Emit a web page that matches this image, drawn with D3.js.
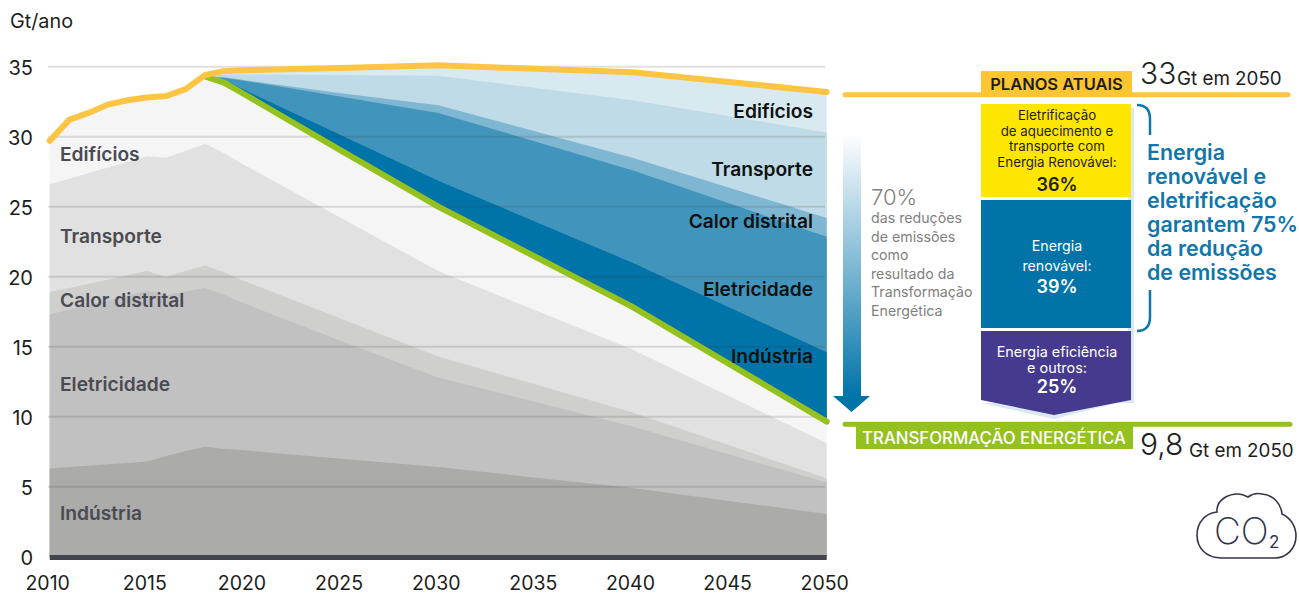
<!DOCTYPE html>
<html>
<head>
<meta charset="utf-8">
<script src="https://cdn.jsdelivr.net/npm/d3@7"></script>
<style>
  html, body { margin: 0; padding: 0; background: #fff; }
  svg { display: block; }
  text { font-family: Inter, "Open Sans", sans-serif; }
</style>
</head>
<body>
<script>
var w = 1299;
var h = 594;

// Years
var years = [2010, 2011, 2012, 2013, 2014, 2015, 2016, 2017, 2018, 2019, 2020, 2025, 2030, 2040, 2050];
var xTicks = [2010, 2015, 2020, 2025, 2030, 2035, 2040, 2045, 2050];
var yTicks = [0, 5, 10, 15, 20, 25, 30, 35];

// Planos atuais (yellow line)
var planned = [29.7, 31.2, 31.7, 32.3, 32.6, 32.8, 32.9, 33.4, 34.4, 34.7, 34.75, 34.9, 35.1, 34.6, 33.2];

// Gray stack, top edge of each sector
var grayTop = [29.7, 31.2, 31.7, 32.3, 32.6, 32.8, 32.9, 33.4, 34.3, 33.85, 33.05, 29.0, 25.0, 17.85, 9.65];
var transportTop = [26.6, 27.0, 27.4, 27.8, 28.2, 28.6, 28.5, 29.0, 29.5, 28.8, 28.0, 24.2, 20.4, 14.8, 8.1];
var heatTop = [18.9, 19.2, 19.5, 19.8, 20.1, 20.4, 20.0, 20.4, 20.8, 20.3, 19.7, 17.0, 14.3, 10.3, 5.6];
var powerTop = [17.3, 17.65, 18.0, 18.3, 18.65, 19.0, 18.7, 18.95, 19.2, 18.7, 18.1, 15.4, 12.8, 9.3, 5.3];
var industryTop = [6.3, 6.4, 6.5, 6.6, 6.7, 6.8, 7.2, 7.55, 7.85, 7.7, 7.6, 7.0, 6.4, 4.9, 3.05];

// Blue wedge between the two scenarios, from 2018 on
var wedgeYears = [2018, 2019, 2020, 2025, 2030, 2040, 2050];
var energyTransition = [34.3, 33.85, 33.05, 29.0, 25.0, 17.85, 9.65];
var wedgeIndustry = [34.3, 34.05, 33.35, 30.1, 26.85, 21.0, 14.6];
var wedgePower = [34.3, 34.2, 34.0, 32.85, 31.7, 27.6, 22.85];
var wedgeHeat = [34.3, 34.25, 34.05, 33.1, 32.25, 28.5, 24.2];
var wedgeTransport = [34.3, 34.45, 34.45, 34.4, 34.36, 32.6, 30.3];
var wedgeBuildings = [34.4, 34.7, 34.75, 34.9, 35.1, 34.6, 33.2];

var sectors = ["Edifícios", "Transporte", "Calor distrital", "Eletricidade", "Indústria"];

var svg = d3.select("body")
  .append("svg")
  .attr("width", w)
  .attr("height", h);

var x = d3.scaleLinear().domain([2010, 2050]).range([49.7, 826.7]);
var y = d3.scaleLinear().domain([0, 35]).range([556.7, 66.7]);

var defs = svg.append("defs");
var grad = defs.append("linearGradient")
  .attr("id", "arrowGrad")
  .attr("x1", 0).attr("x2", 0).attr("y1", 0).attr("y2", 1);
grad.append("stop").attr("offset", "0%").attr("stop-color", "#ffffff");
grad.append("stop").attr("offset", "100%").attr("stop-color", "#0073a9");

// Gray areas, back to front
var grayLayers = [
  { top: grayTop, color: "#f5f5f5" },
  { top: transportTop, color: "#e1e1e1" },
  { top: heatTop, color: "#cfcfcd" },
  { top: powerTop, color: "#c1c1c1" },
  { top: industryTop, color: "#ababa9" }
];

var grayArea = d3.area()
  .x(function(d) { return x(d.year); })
  .y0(y(0))
  .y1(function(d) { return y(d.value); });

grayLayers.forEach(function(layer) {
  var rows = years.map(function(yr, i) { return { year: yr, value: layer.top[i] }; });
  svg.append("path").attr("d", grayArea(rows)).attr("fill", layer.color);
});

// Blue wedge, top layer first
var wedgeLayers = [
  { top: wedgeBuildings, color: "#d9e9f0" },
  { top: wedgeTransport, color: "#bfdbe7" },
  { top: wedgeHeat, color: "#7fb7d2" },
  { top: wedgePower, color: "#4195bc" },
  { top: wedgeIndustry, color: "#0073a8" }
];

var wedgeArea = d3.area()
  .x(function(d) { return x(d.year); })
  .y0(function(d) { return y(d.base); })
  .y1(function(d) { return y(d.value); });

wedgeLayers.forEach(function(layer) {
  var rows = wedgeYears.map(function(yr, i) {
    return { year: yr, value: layer.top[i], base: energyTransition[i] };
  });
  svg.append("path").attr("d", wedgeArea(rows)).attr("fill", layer.color);
});

// Gridlines sit over the areas, they show through in the original
svg.append("g")
  .selectAll("line")
  .data(yTicks.filter(function(d) { return d > 0; }))
  .enter()
  .append("line")
  .attr("x1", 48)
  .attr("x2", 825)
  .attr("y1", function(d) { return y(d); })
  .attr("y2", function(d) { return y(d); })
  .attr("stroke", "#3c3c3c")
  .attr("stroke-opacity", 0.16)
  .attr("stroke-width", 2);

// Baseline band
svg.append("line")
  .attr("x1", x(2010))
  .attr("x2", x(2050))
  .attr("y1", y(0) + 0.8)
  .attr("y2", y(0) + 0.8)
  .attr("stroke", "#44444e")
  .attr("stroke-width", 5);

// Scenario lines
var line = d3.line()
  .x(function(d) { return x(d.year); })
  .y(function(d) { return y(d.value); });

svg.append("path")
  .attr("d", line(wedgeYears.map(function(yr, i) { return { year: yr, value: energyTransition[i] }; })))
  .attr("fill", "none")
  .attr("stroke", "#95c11f")
  .attr("stroke-width", 6)
  .attr("stroke-linecap", "round");

svg.append("path")
  .attr("d", line(years.map(function(yr, i) { return { year: yr, value: planned[i] }; })))
  .attr("fill", "none")
  .attr("stroke", "#fdc543")
  .attr("stroke-width", 6)
  .attr("stroke-linecap", "round");

// Axes
var xAxis = svg.append("g")
  .attr("transform", "translate(-2.5," + 576 + ")")
  .call(d3.axisBottom(x).tickValues(xTicks).tickSize(0).tickPadding(0).tickFormat(d3.format("d")));
xAxis.select(".domain").remove();
xAxis.selectAll("text")
  .attr("font-size", 19.5)
  .attr("fill", "#1d1d1b")
  .style("font-family", "Inter, sans-serif")
  .attr("dy", "0.7em");

var yAxis = svg.append("g")
  .attr("transform", "translate(33,1.6)")
  .call(d3.axisLeft(y).tickValues(yTicks).tickSize(0).tickPadding(0));
yAxis.select(".domain").remove();
yAxis.selectAll("text")
  .attr("font-size", 20)
  .attr("fill", "#1d1d1b")
  .style("font-family", "Inter, sans-serif");

svg.append("text")
  .attr("x", 10).attr("y", 28)
  .attr("font-size", 19.8)
  .attr("fill", "#1d1d1b")
  .text("Gt/ano");

// Sector labels
var leftBaselines = [161, 243, 307, 391, 520];
var rightBaselines = [118, 176, 228, 296, 363];

svg.append("g").selectAll("text")
  .data(sectors)
  .enter()
  .append("text")
  .attr("x", 60)
  .attr("y", function(d, i) { return leftBaselines[i]; })
  .attr("font-size", 19.2)
  .attr("font-weight", 600)
  .attr("fill", "#4a4a52")
  .text(function(d) { return d; });

svg.append("g").selectAll("text")
  .data(sectors)
  .enter()
  .append("text")
  .attr("x", 813)
  .attr("y", function(d, i) { return rightBaselines[i]; })
  .attr("text-anchor", "end")
  .attr("font-size", 19.2)
  .attr("font-weight", 600)
  .attr("fill", "#111111")
  .text(function(d) { return d; });

// Reduction arrow
svg.append("rect")
  .attr("x", 843).attr("y", 133)
  .attr("width", 18).attr("height", 264)
  .attr("fill", "url(#arrowGrad)");
svg.append("path")
  .attr("d", "M833,396 L870,396 L851.5,412 Z")
  .attr("fill", "#0073a9");

svg.append("text")
  .attr("x", 871).attr("y", 205)
  .attr("font-size", 22)
  .attr("font-weight", 300)
  .attr("fill", "#808080")
  .text("70%");

var arrowNote = ["das reduções", "de emissões", "como", "resultado da", "Transformação", "Energética"];
svg.append("g").selectAll("text")
  .data(arrowNote)
  .enter()
  .append("text")
  .attr("x", 871)
  .attr("y", function(d, i) { return 223 + i * 18.6; })
  .attr("font-size", 14.2)
  .attr("fill", "#808080")
  .text(function(d) { return d; });

// Scenario rules on the right
svg.append("path")
  .attr("d", "M981,403 L1134,403 L1134,108 L1128,108 L1128,400 L1054,419 L981,403 Z")
  .attr("fill", "#d9e9f0");

svg.append("line")
  .attr("x1", 845).attr("x2", 1288)
  .attr("y1", 94.7).attr("y2", 94.7)
  .attr("stroke", "#fdc543").attr("stroke-width", 5).attr("stroke-linecap", "round");
svg.append("rect")
  .attr("x", 981).attr("y", 71)
  .attr("width", 151).attr("height", 26)
  .attr("fill", "#fdc52f");
svg.append("text")
  .attr("x", 1056.5).attr("y", 90)
  .attr("text-anchor", "middle")
  .attr("font-size", 16.5)
  .attr("font-weight", 600)
  .attr("fill", "#1d1d1b")
  .text("PLANOS ATUAIS");

svg.append("text")
  .attr("x", 1140).attr("y", 84)
  .attr("font-size", 30).attr("font-weight", 300)
  .attr("fill", "#1d1d1b")
  .text("33");
svg.append("text")
  .attr("x", 1177).attr("y", 85)
  .attr("font-size", 18.8)
  .attr("fill", "#1d1d1b")
  .text("Gt em 2050");

svg.append("line")
  .attr("x1", 845).attr("x2", 1290)
  .attr("y1", 424.3).attr("y2", 424.3)
  .attr("stroke", "#95c11f").attr("stroke-width", 5).attr("stroke-linecap", "round");
svg.append("rect")
  .attr("x", 856).attr("y", 424)
  .attr("width", 277).attr("height", 25)
  .attr("fill", "#95c11f");
svg.append("text")
  .attr("x", 994).attr("y", 444)
  .attr("text-anchor", "middle")
  .attr("font-size", 16.8)
  .attr("font-weight", 500)
  .attr("fill", "#ffffff")
  .text("TRANSFORMAÇÃO ENERGÉTICA");

svg.append("text")
  .attr("x", 1140).attr("y", 455)
  .attr("font-size", 30).attr("font-weight", 300)
  .attr("fill", "#1d1d1b")
  .text("9,8");
svg.append("text")
  .attr("x", 1189).attr("y", 457)
  .attr("font-size", 18.8)
  .attr("fill", "#1d1d1b")
  .text("Gt em 2050");

// Share boxes
var yellowLines = ["Eletrificação", "de aquecimento e", "transporte com", "Energia Renovável:"];
var blueLines = ["Energia", "renovável:"];
var purpleLines = ["Energia eficiência", "e outros:"];
var shareValues = ["36%", "39%", "25%"];

svg.append("rect").attr("x", 981).attr("y", 104).attr("width", 150).attr("height", 93).attr("fill", "#ffe600");
svg.append("rect").attr("x", 981).attr("y", 200).attr("width", 150).attr("height", 128).attr("fill", "#0073a9");
svg.append("path").attr("d", "M981,331 L1131,331 L1131,400 L1054,415 L981,400 Z").attr("fill", "#463a8e");

function boxText(lines, baselines, color, size) {
  svg.append("g").selectAll("text")
    .data(lines)
    .enter()
    .append("text")
    .attr("x", 1057)
    .attr("y", function(d, i) { return baselines[i]; })
    .attr("text-anchor", "middle")
    .attr("font-size", size)
    .attr("fill", color)
    .text(function(d) { return d; });
}
boxText(yellowLines, [120, 136, 151, 167], "#1d1d1b", 13.3);
boxText(blueLines, [251, 271], "#ffffff", 14.2);
boxText(purpleLines, [357, 373], "#ffffff", 14.4);

function shareText(label, base, color) {
  svg.append("text")
    .attr("x", 1057).attr("y", base)
    .attr("text-anchor", "middle")
    .attr("font-size", 18)
    .attr("font-weight", 600)
    .attr("fill", color)
    .text(label);
}
shareText(shareValues[0], 191, "#1d1d1b");
shareText(shareValues[1], 293, "#ffffff");
shareText(shareValues[2], 393, "#ffffff");

// Bracket and its caption
svg.append("path")
  .attr("d", "M1137,105 C1146,105 1150,110 1150,119 L1150,135 M1150,290 L1150,317 C1150,326 1146,331 1137,331")
  .attr("fill", "none")
  .attr("stroke", "#0f76ab")
  .attr("stroke-width", 2.5);

var captionLines = ["Energia", "renovável e", "eletrificação", "garantem 75%", "da redução", "de emissões"];
svg.append("g").selectAll("text")
  .data(captionLines)
  .enter()
  .append("text")
  .attr("x", 1147)
  .attr("y", function(d, i) { return 160 + i * 24; })
  .attr("font-size", 21.4)
  .attr("font-weight", 600)
  .attr("fill", "#0f76ab")
  .text(function(d) { return d; });

// CO2 cloud
svg.append("path")
  .attr("d", "M1222,558 C1205,558 1197,547 1197,535 C1197,522 1206,513 1217,512 C1216,500 1228,494 1238,494 C1242,494 1246,496 1248,497 C1252,494 1258,493 1262,494 C1273,495 1281,503 1282,514 C1291,518 1296,527 1296,536 C1296,549 1286,558 1275,558 Z")
  .attr("fill", "none")
  .attr("stroke", "#33334a")
  .attr("stroke-width", 1.6);
svg.append("text")
  .attr("x", 1214).attr("y", 544)
  .attr("font-size", 37).attr("font-weight", 200)
  .attr("fill", "#33334a")
  .text("CO");
svg.append("text")
  .attr("x", 1269).attr("y", 548)
  .attr("font-size", 17)
  .attr("fill", "#33334a")
  .text("2");
</script>
</body>
</html>
